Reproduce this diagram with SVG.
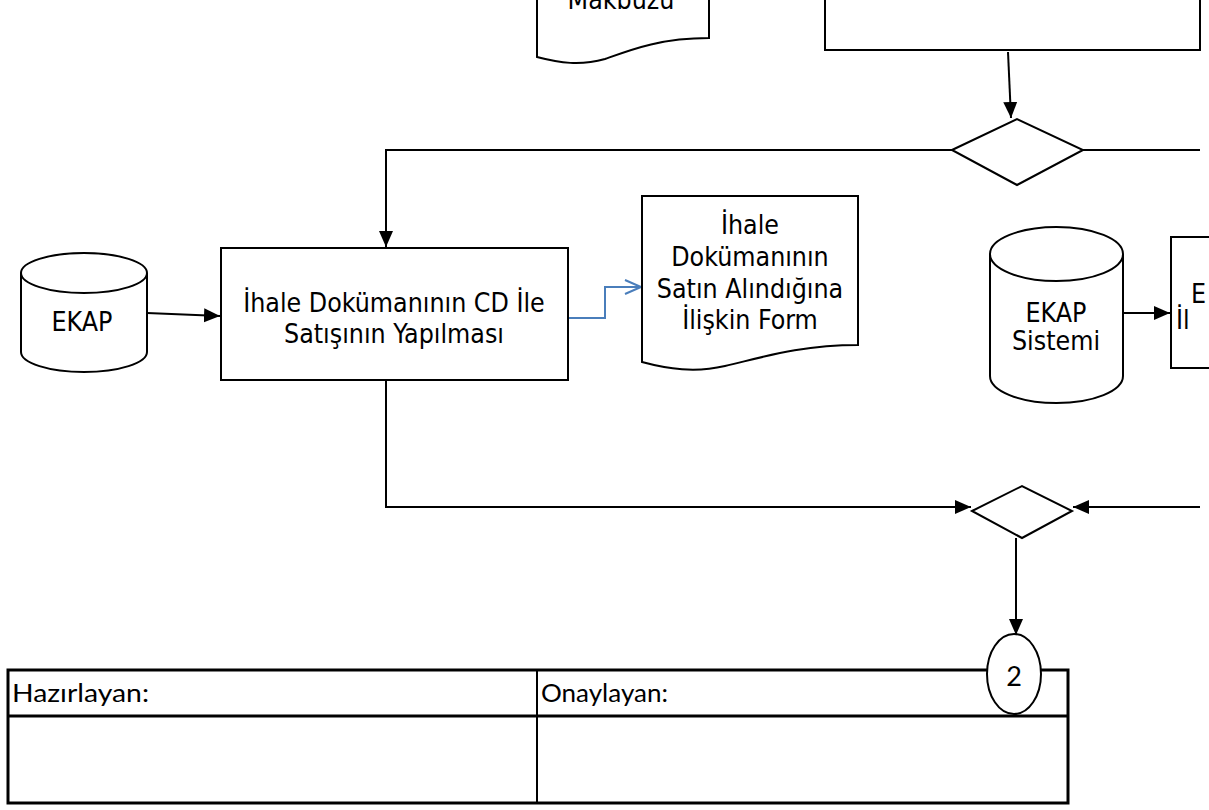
<svg xmlns="http://www.w3.org/2000/svg" width="1209" height="810" viewBox="0 0 1209 810">
<defs>
<style>
.s{fill:#fff;stroke:#000;stroke-width:2}
.t{font-family:"DejaVu Sans Condensed","DejaVu Sans",sans-serif;font-stretch:condensed;font-size:26.5px;fill:#000;text-anchor:middle}
.g{font-family:Lato,"Liberation Sans",sans-serif;font-size:25px;fill:#000}
.c{fill:none;stroke:#000;stroke-width:2}
.b{fill:none;stroke:#4a7ebb;stroke-width:2}
</style>
<marker id="ah" markerUnits="userSpaceOnUse" markerWidth="16" markerHeight="16" viewBox="0 0 16 16" refX="16" refY="8" orient="auto">
<path d="M0,1 L16,8 L0,15 Z" fill="#000"/>
</marker>
<marker id="oa" markerUnits="userSpaceOnUse" markerWidth="20" markerHeight="20" viewBox="0 0 20 20" refX="18" refY="10" orient="auto">
<path d="M2,3 L18,10 L2,17" fill="none" stroke="#4a7ebb" stroke-width="2"/>
</marker>
</defs>
<rect width="1209" height="810" fill="#fff"/>

<g id="table">
<rect x="8" y="670" width="1060" height="133" fill="#fff" stroke="#000" stroke-width="3"/>
<line x1="8" y1="716" x2="1068" y2="716" stroke="#000" stroke-width="3"/>
<line x1="537" y1="670" x2="537" y2="803" stroke="#000" stroke-width="2"/>
<text class="g" x="12" y="702" textLength="137" lengthAdjust="spacingAndGlyphs">Hazırlayan:</text>
<text class="g" x="541" y="702" textLength="127" lengthAdjust="spacingAndGlyphs">Onaylayan:</text>
</g>

<g id="connectors">
<line class="c" x1="1008" y1="52" x2="1011" y2="118" marker-end="url(#ah)"/>
<polyline class="c" points="952,150 386,150 386,247" marker-end="url(#ah)"/>
<line class="c" x1="1083" y1="150" x2="1200" y2="150"/>
<line class="c" x1="147" y1="313" x2="220" y2="316" marker-end="url(#ah)"/>
<polyline class="b" points="568,318 605,318 605,287 641,287" marker-end="url(#oa)"/>
<line class="c" x1="1123" y1="313" x2="1170" y2="313" marker-end="url(#ah)"/>
<polyline class="c" points="386,380 386,507 971,507" marker-end="url(#ah)"/>
<line class="c" x1="1200" y1="507" x2="1073" y2="507" marker-end="url(#ah)"/>
<line class="c" x1="1016" y1="538" x2="1016" y2="635" marker-end="url(#ah)"/>
</g>

<g id="doc-makbuzu">
<path class="s" d="M537,-40 H709 V38 C660,38 630,50 605,59 C580,66 560,63 537,57 Z"/>
<text class="t" x="621" y="9">Makbuzu</text>
</g>

<g id="top-rect">
<rect class="s" x="825" y="-40" width="375" height="90"/>
</g>

<g id="diamond1">
<polygon class="s" points="952,150 1017,119 1083,150 1017,185"/>
</g>

<g id="ekap">
<path class="s" d="M21,273 V352 A63,20 0 0 0 147,352 V273"/>
<ellipse class="s" cx="84" cy="273" rx="63" ry="20"/>
<text class="t" x="82" y="331">EKAP</text>
</g>

<g id="process-cd">
<rect class="s" x="221" y="248" width="347" height="132"/>
<text class="t" x="394" y="312">İhale Dokümanının CD İle</text>
<text class="t" x="394" y="343">Satışının Yapılması</text>
</g>

<g id="doc-form">
<path class="s" d="M642,196 H858 V345 C800,345 760,358 725,366 C695,373 668,369 642,362 Z"/>
<text class="t" x="750" y="234">İhale</text>
<text class="t" x="750" y="266">Dokümanının</text>
<text class="t" x="750" y="298">Satın Alındığına</text>
<text class="t" x="750" y="329">İlişkin Form</text>
</g>

<g id="ekap-sistemi">
<path class="s" d="M990,254 V376 A66.5,27 0 0 0 1123,376 V254"/>
<ellipse class="s" cx="1056.5" cy="254" rx="66.5" ry="27"/>
<text class="t" x="1056" y="322">EKAP</text>
<text class="t" x="1056" y="350">Sistemi</text>
</g>

<g id="right-rect">
<rect class="s" x="1171" y="237" width="60" height="131"/>
<text class="t" x="1191" y="303" style="text-anchor:start">E</text>
<text class="t" x="1176" y="329" style="text-anchor:start">İl</text>
</g>

<g id="diamond2">
<polygon class="s" points="972,511 1022,486 1072,511 1022,538"/>
</g>

<g id="connector-2">
<ellipse class="s" cx="1014" cy="674" rx="27" ry="40"/>
<text class="g" x="1014" y="686" style="text-anchor:middle;font-size:27px">2</text>
</g>
</svg>
